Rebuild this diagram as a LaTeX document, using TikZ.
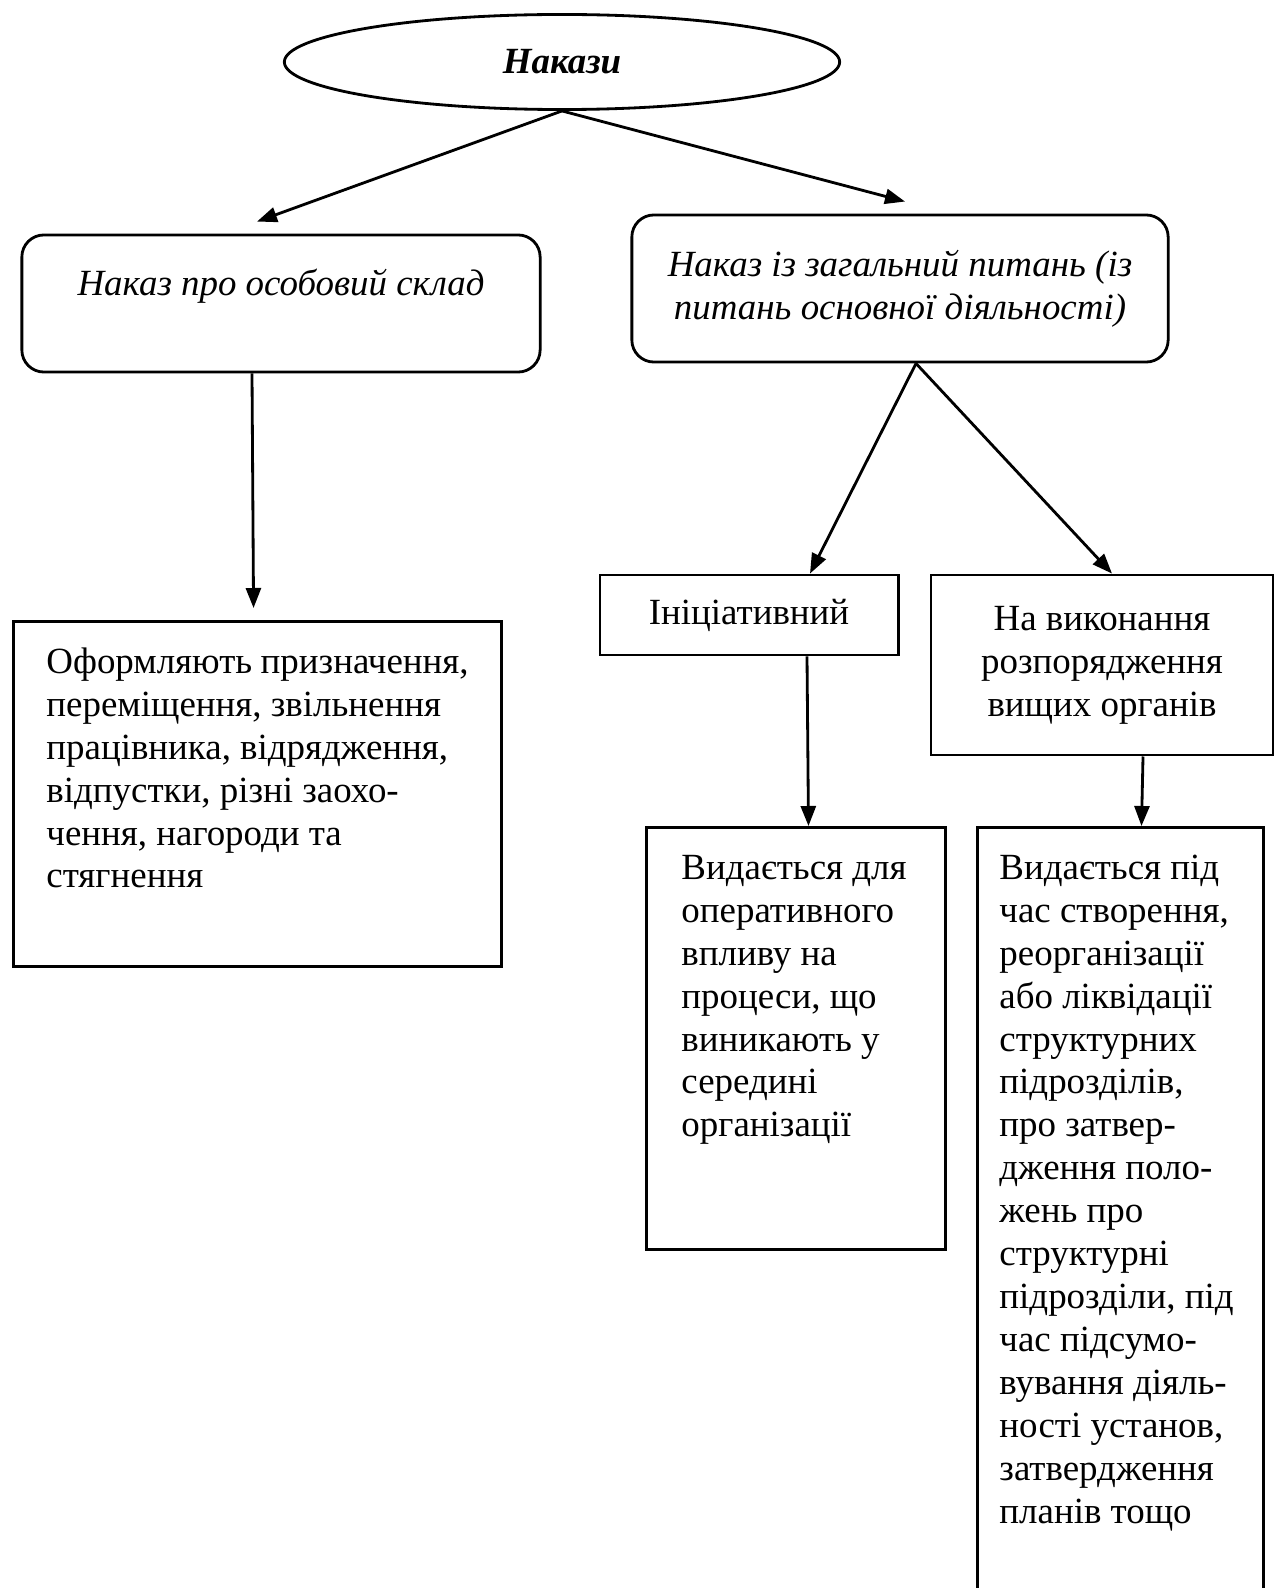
\documentclass[tikz,border=0pt]{standalone}
\usepackage{fontspec}
\setmainfont{Liberation Serif}
\usetikzlibrary{positioning, shapes.geometric, arrows.meta, calc}
\newcommand{\boxtext}[3]{\parbox[c][#2][t]{#1}{\raggedright\strut #3}}

\begin{document}
\begin{tikzpicture}[x=0.01cm, y=-0.01cm,
    every node/.style={font=\fontsize{10.5}{12.2}\selectfont},
    rbox/.style={draw, rounded corners=0.22cm, line width=0.8pt, align=center, font=\fontsize{10.5}{12.2}\selectfont\itshape},
    sbox/.style={draw, line width=0.8pt, align=center},
    dbox/.style={draw, line width=0.8pt, anchor=north west, inner ysep=0.22cm, inner xsep=#1},
    arr/.style={-{Triangle[length=0.2cm, width=0.15cm]}, line width=0.8pt}]
			\useasboundingbox (0,0) rectangle (1274,1588);

			\node[draw, ellipse, line width=0.8pt, minimum width=5.55cm, minimum height=0.95cm, inner sep=0, font=\fontsize{10.5}{12.2}\selectfont\bfseries\itshape]  (orders)  at (562,62) {Накази};
			\node[rbox, minimum width=5.18cm, minimum height=1.37cm]  (staff)  at (281,303.5) {Наказ про особовий склад\\\mbox{}};
			\node[rbox, minimum width=5.36cm, minimum height=1.47cm]  (general)  at (900,288.5) {Наказ із загальний питань (із\\питань основної діяльності)};
			\node[sbox, minimum width=2.98cm, minimum height=0.8cm]  (initiative)  at (749,615) {Ініціативний};
			\node[sbox, right=0.3cm of initiative.north east, anchor=north west, minimum width=3.42cm, minimum height=1.8cm]  (execution)  {На виконання\\розпорядження\\вищих органів};

			\node[dbox=0.33cm]  (staffinfo)  at (12,620) {\boxtext{4.22cm}{3.01cm}{Оформляють призначення,\\переміщення, звільнення\\працівника, відрядження,\\відпустки, різні заохо-\\чення, нагороди та\\стягнення}};
			\node[dbox=0.35cm]  (initinfo)  at (645,826) {\boxtext{2.29cm}{3.78cm}{Видається для\\оперативного\\впливу на\\процеси, що\\виникають у\\середині\\організації}};
			\node[dbox=0.22cm]  (execinfo)  at (976,826) {\boxtext{2.42cm}{7.4cm}{Видається під\\час створення,\\реорганізації\\або ліквідації\\структурних\\підрозділів,\\про затвер-\\дження поло-\\жень про\\структурні\\підрозділи, під\\час підсумо-\\вування діяль-\\ності установ,\\затвердження\\планів тощо}};

			\draw[arr] (orders.south) -- ($(staff.north)+(-24,-12)$) ;
			\draw[arr] (orders.south) -- ($(general.north)+(5,-12)$) ;
			\draw[arr] ($(staff.south)+(-29,0)$) -- ($(staffinfo.north)+(-4,-12)$) ;
			\draw[arr] ($(general.south)+(16,0)$) -- ($(initiative.north)+(61,0)$) ;
			\draw[arr] ($(general.south)+(16,0)$) -- ($(execution.north)+(10,0)$) ;
			\draw[arr] ($(initiative.south)+(58,0)$) -- ($(initinfo.north)+(12.5,0)$) ;
			\draw[arr] ($(execution.south)+(41,0)$) -- ($(execinfo.north)+(21,0)$) ;
		\end{tikzpicture}
\end{document}
